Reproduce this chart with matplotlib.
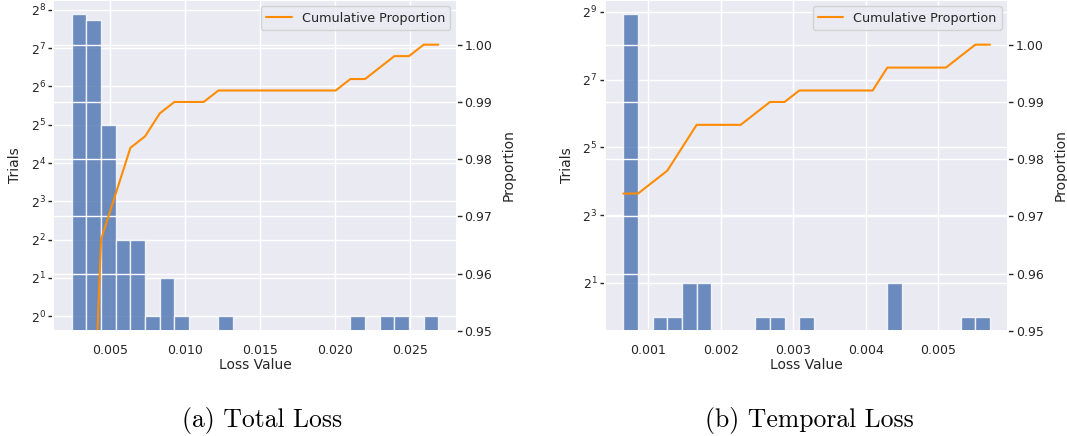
import numpy as np
import matplotlib
matplotlib.use('Agg')
import matplotlib.pyplot as plt
import seaborn as sns
from matplotlib.ticker import LogFormatterSciNotation, FixedLocator

sns.set_theme(style='darkgrid')
plt.rcParams['font.family'] = ['DejaVu Sans']

# total loss histogram (25 bins)
total_lo, total_hi = 0.00247, 0.0269
total_counts = [236, 215, 32, 4, 4, 1, 2, 1, 0, 0, 1, 0, 0, 0, 0, 0, 0, 0, 0,
                1, 0, 1, 1, 0, 1]
total_yticks = [1, 2, 4, 8, 16, 32, 64, 128, 256]

# temporal loss histogram (25 bins)
temp_lo, temp_hi = 0.000656, 0.00571
temp_counts = [487, 0, 1, 1, 2, 2, 0, 0, 0, 1, 1, 0, 1, 0, 0, 0, 0, 0, 2,
               0, 0, 0, 0, 1, 1]
temp_yticks = [2, 8, 32, 128, 512]

prop_ticks = [0.95, 0.96, 0.97, 0.98, 0.99, 1.00]
captions = ['(a) Total Loss', '(b) Temporal Loss']

fig = plt.figure(figsize=(10.67, 4.36), dpi=100)
ax_pos = [[0.0501, 0.2408, 0.3779, 0.7592],
          [0.5670, 0.2408, 0.3780, 0.7592]]
ylims = [(2 ** -0.39, 2 ** 8.26), (2 ** -0.42, 2 ** 9.35)]
cap_x = [0.2455, 0.7587]

datasets = [(total_lo, total_hi, total_counts, total_yticks),
            (temp_lo, temp_hi, temp_counts, temp_yticks)]

for i, (lo, hi, counts, yt) in enumerate(datasets):
    counts = np.array(counts)
    edges = np.linspace(lo, hi, len(counts) + 1)
    ax = fig.add_axes(ax_pos[i])
    m = counts > 0
    ax.bar(edges[:-1][m], counts[m], width=np.diff(edges)[m], align='edge',
           color='#4c72b0', alpha=0.8, edgecolor='white', linewidth=1)
    ax.set_yscale('log', base=2)
    ax.set_ylim(*ylims[i])
    ax.yaxis.set_major_locator(FixedLocator(yt))
    ax.yaxis.set_major_formatter(LogFormatterSciNotation(base=2))
    ax.yaxis.set_minor_locator(FixedLocator([]))
    ax.set_xlabel('Loss Value', fontsize=10, labelpad=1)
    ax.set_ylabel('Trials', fontsize=10, labelpad=6)
    ax.tick_params(axis='x', labelsize=9, pad=3)
    ax.tick_params(axis='y', labelsize=9, left=True, length=3.5, width=1,
                   color='#262626', pad=2)

    cum = np.cumsum(counts) / counts.sum()
    ax2 = ax.twinx()
    ax2.plot(edges, np.append(cum, cum[-1]), color='darkorange', lw=1.5,
             label='Cumulative Proportion')
    ax2.set_ylim(0.95, 1.0078)
    ax2.set_yticks(prop_ticks)
    ax2.yaxis.set_major_formatter(matplotlib.ticker.FormatStrFormatter('%.2f'))
    ax2.set_ylabel('Proportion', fontsize=10, labelpad=7)
    ax2.tick_params(axis='y', labelsize=9, right=True, length=3.5, width=1,
                    color='#262626', pad=2)
    ax2.legend(loc='upper right', fontsize=9.2)

    fig.text(cap_x[i], 0.0206, captions[i], family='cmr10', fontsize=18.5,
             ha='center', va='baseline', color='black')

fig.savefig('out.png', dpi=100)
